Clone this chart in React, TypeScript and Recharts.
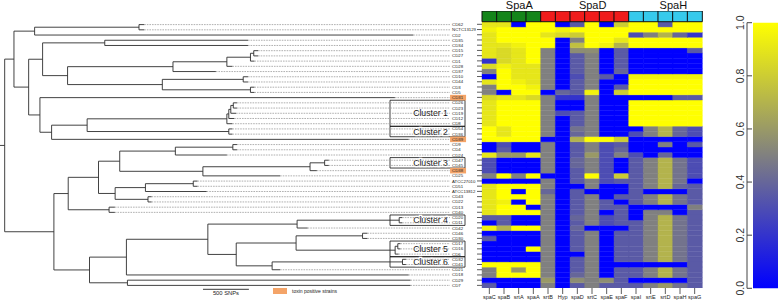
import React from "react";
import {
  ComposedChart,
  BarChart,
  Bar,
  Cell,
  Scatter,
  XAxis,
  YAxis,
  ReferenceLine,
  ReferenceArea,
  Label,
} from "recharts";

// strains, top to bottom, in tree order
const strains = [
  "CD62", "NCTC13129", "CD2", "CD35", "CD34", "CD15", "CD27", "CD1", "CD28", "CD37",
  "CD10", "CD44", "CD3", "CD5", "CD31", "CD26", "CD23", "CD19", "CD12", "CD8",
  "CD54", "CD36", "CD39", "CD9", "CD4", "CD24", "CD47", "CD45", "CD38", "CD25",
  "ATCC27010", "CD51", "ATCC13812", "CD43", "CD22", "CD13", "CD40", "CD20", "CD11", "CD42",
  "CD46", "CD30", "CD17", "CD16", "CD6", "CD32", "CD41", "CD21", "CD18", "CD29", "CD7",
];
const toxinPositive = ["CD31", "CD39", "CD38"];

const genes = ["spaC", "spaB", "srtA", "spaA", "srtB", "Hyp", "spaD", "srtC", "spaE", "spaF", "spaI", "srtE", "srtD", "spaH", "spaG"];
const geneGroup = ["SpaA", "SpaA", "SpaA", "SpaA", "SpaD", "SpaD", "SpaD", "SpaD", "SpaD", "SpaD", "SpaH", "SpaH", "SpaH", "SpaH", "SpaH"];
const groupNames = ["SpaA", "SpaD", "SpaH"];

// gene similarity per strain (rows follow strains, columns follow genes)
const presence = [
  [0.9, 0.9, 0, 1, 1, 0, 0.35, 1, 0, 0.8, 1, 1, 0.35, 1, 1],
  [0.95, 1, 1, 1, 1, 0.95, 1, 1, 1, 1, 1, 1, 1, 1, 1],
  [0.9, 1, 1, 1, 0.9, 0.85, 0.8, 1, 1, 1, 0.3, 0.5, 0.7, 0.4, 0.2],
  [0.9, 1, 1, 1, 1, 0, 0.5, 1, 1, 0.9, 1, 1, 1, 1, 1],
  [0.9, 0.9, 0.95, 1, 1, 0, 0.75, 1, 0.95, 0.7, 1, 1, 1, 1, 1],
  [0.9, 0.85, 0.9, 1, 0.5, 0, 0.55, 0.55, 0, 0.35, 0, 0, 0, 0, 0.35],
  [0.9, 0.85, 0.9, 1, 0.5, 0, 0.35, 0.5, 0, 0.35, 0, 0, 0, 0, 0],
  [0.2, 0.85, 0.9, 1, 0.5, 0, 0.35, 0.5, 0, 0.35, 0, 0, 0, 0, 0],
  [0.85, 0.95, 0.9, 0.9, 0.5, 0, 0.35, 0.5, 0, 0.35, 0, 0, 0, 0, 0],
  [0.5, 1, 0.9, 0.9, 0.5, 0, 0.35, 0.5, 0, 0.4, 0, 0, 0, 0, 0],
  [0, 1, 0.9, 0.9, 0.5, 0, 0.3, 0.5, 0.35, 0, 0.95, 0.95, 0.95, 0.95, 0.95],
  [0.9, 1, 0.95, 0.9, 0.5, 0, 0.35, 0.5, 0, 0, 1, 1, 1, 1, 1],
  [0.5, 1, 1, 0.95, 0.5, 0, 0.35, 0.5, 0, 0.35, 1, 1, 1, 1, 1],
  [0.5, 0, 1, 1, 0, 0.4, 0.35, 0.95, 0, 0.8, 1, 1, 1, 1, 1],
  [0.85, 0.9, 0.9, 0.85, 0.5, 0.2, 0.2, 0.5, 0, 0, 0, 0, 0, 0.35, 0.35],
  [0.9, 1, 1, 1, 0.5, 0, 0, 0.5, 0, 0, 1, 1, 1, 1, 1],
  [0.9, 1, 1, 1, 0.5, 0, 0, 0.5, 0, 0, 1, 1, 1, 1, 1],
  [0.9, 1, 1, 1, 0.5, 0.3, 0.35, 0.5, 0, 0, 1, 1, 1, 1, 1],
  [0.9, 1, 1, 1, 0.5, 0, 0.35, 0.5, 0, 0, 1, 1, 1, 1, 1],
  [0.9, 1, 1, 1, 0.5, 0, 0.35, 0.5, 0, 0, 1, 1, 1, 1, 1],
  [1, 0.9, 1, 1, 0.5, 0, 0.45, 0.5, 0, 0, 0, 0.5, 0.7, 0.4, 0.3],
  [1, 0.9, 1, 1, 0.5, 0, 0.4, 0.5, 0, 0, 0.3, 0.5, 0.7, 0.4, 0.3],
  [1, 1, 1, 1, 0, 0, 0.7, 1, 1, 0.8, 0, 0, 0, 0, 0],
  [0, 0.3, 0, 0, 0.5, 0, 0.35, 0.5, 0.3, 0.35, 0, 0, 0.5, 0, 0.35],
  [0, 0.35, 0, 0, 0.5, 0, 0.35, 0.5, 0.3, 0.4, 0, 0, 0, 0, 0],
  [0.9, 0.6, 0.6, 0.9, 0.5, 0, 0.35, 0.6, 0.3, 0.5, 0.3, 0, 0.4, 0, 0],
  [0.3, 0, 0, 0, 0.5, 0, 0.4, 0.5, 0.3, 0, 0.35, 0.5, 0.7, 0.45, 0.3],
  [0.3, 0, 0, 0, 0.5, 0, 0.4, 0.5, 0.3, 0, 0.35, 0.5, 0.7, 0.45, 0.3],
  [0.3, 0, 0, 0, 0.5, 0, 0.35, 0.5, 0.3, 0, 0.35, 0.5, 0.7, 0.45, 0.3],
  [0.5, 1, 0.5, 1, 0, 0, 0.35, 1, 0.3, 0.8, 0.35, 0.5, 0.7, 0.45, 0.3],
  [0, 0, 0, 0, 0.5, 0, 0.35, 0.5, 0.3, 0.35, 0.35, 0.5, 0.7, 0.45, 0],
  [0.9, 1, 1, 1, 0.5, 0, 0, 0.5, 0, 0, 0.35, 0.5, 0.7, 0.4, 0.35],
  [0.9, 1, 0, 1, 0.4, 0, 0.35, 0, 0, 0, 0.35, 0, 0, 0, 0.35],
  [0.9, 1, 1, 1, 0.5, 0, 0.35, 0.5, 0, 0.35, 0.35, 0.5, 0.7, 0.45, 0.35],
  [0.9, 0.95, 0, 1, 0.5, 0, 0.35, 0.5, 0.35, 0, 0.35, 0.5, 0.7, 0.45, 0.35],
  [0.9, 1, 1, 0, 0.5, 0, 0.35, 0.5, 0.35, 0.35, 0, 0, 0, 0, 0.5],
  [0.9, 1, 1, 1, 0.5, 0, 0.35, 0.5, 0, 0.35, 0, 0.5, 0.5, 0, 0.35],
  [0.35, 0.35, 0, 0, 0.5, 0, 0.4, 0.5, 0.3, 0.35, 0, 0.5, 0.7, 0.45, 0.35],
  [0, 0.35, 0, 0, 0.5, 0, 0.35, 0.5, 0.3, 0.35, 0.35, 0.5, 0.7, 0.45, 0.35],
  [0.95, 0.7, 1, 1, 0.5, 0, 0.4, 0, 0, 0, 0.35, 0.5, 0.7, 0.45, 0.35],
  [0, 0, 0, 0, 0.5, 0, 0.35, 0.5, 0, 0.35, 0.35, 0.5, 0.7, 0.45, 0.35],
  [0.35, 0, 0, 0, 0.5, 0, 0.35, 0.5, 0, 0.35, 0.35, 0.5, 0.7, 0.45, 0.35],
  [0, 0, 0, 0, 0.5, 0, 0.35, 0.5, 0, 0.35, 0.35, 0.5, 0.7, 0.45, 0.35],
  [0, 0, 0, 1, 0.5, 0, 0.35, 0.5, 0, 0.35, 0.35, 0.5, 0.7, 0.45, 0.35],
  [0, 0, 0, 0, 0.5, 0, 0, 0.5, 0, 0.35, 0.35, 0.5, 0.7, 0.45, 0.35],
  [0, 0, 0, 0, 0.5, 0, 0.35, 0.5, 0, 0.35, 0.35, 0.5, 0.7, 0.45, 0.35],
  [1, 1, 1, 1, 0.5, 0, 0.35, 0.5, 0, 0, 0, 0, 0, 0, 0.35],
  [0.5, 1, 0.6, 1, 0.5, 0, 0.35, 0.5, 0, 0.35, 0.35, 0.5, 0.7, 0.45, 0.35],
  [0.5, 1, 1, 1, 0.5, 0, 0.4, 0.5, 0, 0.35, 0.35, 0.5, 0.7, 0.45, 0.35],
  [0, 0, 0, 0, 0.6, 0, 0.55, 0.5, 0.55, 0.35, 0, 0, 0, 0, 0.35],
  [0.35, 0, 0, 0, 0.5, 0, 0.35, 0.5, 0.35, 0.35, 0.35, 0.5, 0.6, 0.45, 0.35],
];

// internal tree nodes: [id, depth in SNPs, child, child]; a number child is a strain row
const treeNodes: [string, number, string | number, string | number][] = [
  ["root", 0, "U", "L"],
  ["U", 101, "A", "n86"],
  ["A", 326, "n418", 2],
  ["n418", 1463, 0, 1],
  ["n86", 261, "n128", "n120"],
  ["n128", 413, "n315", "n203"],
  ["n315", 1090, 3, 4],
  ["n203", 685, "n520", "n488"],
  ["n520", 1833, "n682", 9],
  ["n682", 2420, "n753", 8],
  ["n753", 2677, "n763", 7],
  ["n763", 2713, 5, 6],
  ["n488", 1717, "n731", "n753b"],
  ["n731", 2598, 10, 11],
  ["n753b", 2677, 12, 13],
  ["n120", 384, 14, "n155"],
  ["n155", 511, "n262", 22],
  ["n262", 898, "c1", "c2"],
  ["c1", 2420, "c1b", 19],
  ["c1b", 2441, "c1c", 18],
  ["c1c", 2463, "c1d", 17],
  ["c1d", 2490, 15, 16],
  ["c2", 2441, 20, 21],
  ["L", 536, "n205", "n269"],
  ["n205", 692, "n296", "n328"],
  ["n296", 1022, "n360", "n346"],
  ["n360", 1253, "n527", "n610"],
  ["n527", 1859, "n700", 25],
  ["n700", 2485, 23, 24],
  ["n610", 2159, "n932", 29],
  ["n932", 3326, "c3", 28],
  ["c3", 3485, 26, 27],
  ["n346", 1203, "n437", "n445"],
  ["n437", 1533, "n581", 32],
  ["n581", 2054, 30, 31],
  ["n445", 1561, 33, 34],
  ["n328", 1137, 35, 36],
  ["n269", 924, "n380", "n383"],
  ["n380", 1326, "n625", 48],
  ["n383", 1337, 49, 50],
  ["n625", 2213, "n893", "n710"],
  ["n893", 3185, "c4", 39],
  ["c4", 4297, 37, 38],
  ["n710", 2522, "n890", "n818"],
  ["n890", 3174, "n1090", "c5"],
  ["n1090", 3898, 40, 41],
  ["c5", 4253, "c5a", 44],
  ["c5a", 4282, 42, 43],
  ["n818", 2913, "c6", 47],
  ["c6", 4333, 45, 46],
];

// branch tip depth (SNPs) of each strain
const tipDepth = [
  1520, 1520, 4450, 2650, 2650, 2760, 2760, 2720, 2480, 2300,
  2650, 2650, 2720, 2720, 4250, 2530, 2530, 2520, 2500, 2480,
  2480, 2480, 4400, 2530, 2530, 2420, 3530, 3530, 3400, 3000,
  2100, 2100, 2200, 1600, 1600, 1200, 1200, 4330, 4330, 3300,
  3950, 3950, 4310, 4310, 4290, 4370, 4370, 3000, 4400, 4420, 4420,
];

// clusters: [label, first row, last row]
const clusters: [string, number, number][] = [
  ["Cluster 1", 15, 19],
  ["Cluster 2", 20, 21],
  ["Cluster 3", 26, 27],
  ["Cluster 4", 37, 38],
  ["Cluster 5", 42, 44],
  ["Cluster 6", 45, 46],
];

const scaleBarSnps = 500;
const keyTicks = [0, 0.2, 0.4, 0.6, 0.8, 1];

const groupColor: Record<string, string> = { SpaA: "#14851a", SpaD: "#f01c1c", SpaH: "#36caec" };
const TREE_LINE = "#2e2e2e";
const ORANGE = "#f4a468";
const LABEL_DEPTH = 4873;
const DASH_END = 4850;
const BOX_LEFT = 4197;
const BOX_RIGHT = 5014;
const HEADER = 2.05;

function heatColor(v: number) {
  const lo = [0, 0, 255];
  const mid = [128, 128, 128];
  const hi = [255, 255, 0];
  const [a, b, t] = v < 0.5 ? [lo, mid, v / 0.5] : [mid, hi, (v - 0.5) / 0.5];
  const c = a.map((s, k) => Math.round(s + (b[k] - s) * t));
  return `rgb(${c.join(",")})`;
}

const nodeById = new Map(treeNodes.map((n) => [n[0], n]));
const childY = (c: string | number): number => {
  if (typeof c === "number") return c;
  const n = nodeById.get(c)!;
  return (childY(n[2]) + childY(n[3])) / 2;
};
const childX = (c: string | number): number =>
  typeof c === "number" ? tipDepth[c] : nodeById.get(c)![1];

type Seg = { x1: number; y1: number; x2: number; y2: number };
const branchSegs: Seg[] = [];
treeNodes.forEach(([, x, a, b]) => {
  branchSegs.push({ x1: x, y1: childY(a), x2: x, y2: childY(b) });
  [a, b].forEach((c) => branchSegs.push({ x1: x, y1: childY(c), x2: childX(c), y2: childY(c) }));
});
branchSegs.push({ x1: -51, y1: childY("root"), x2: 0, y2: childY("root") });

const leafData = strains.map((name, i) => ({ x: LABEL_DEPTH, y: i, name }));

const LeafLabel = (p: any) => {
  const { cx, cy, payload } = p;
  const hot = toxinPositive.includes(payload.name);
  return (
    <g>
      {hot && <rect x={cx - 2} y={cy - 2.8} width={16} height={5.6} fill={ORANGE} />}
      <text x={cx} y={cy} dy="0.35em" fontSize={4.3} fill="#222">
        {payload.name}
      </text>
    </g>
  );
};

const ClusterLabel = (p: any) => {
  const { viewBox, text } = p;
  return (
    <text
      x={viewBox.x + viewBox.width / 2 + 3}
      y={viewBox.y + viewBox.height / 2}
      dy="0.35em"
      textAnchor="middle"
      fontSize={8.7}
      fill="#111"
      stroke="#fff"
      strokeWidth={2.5}
      paintOrder="stroke"
    >
      {text}
    </text>
  );
};

const TreePanel = () => (
  <ComposedChart width={482} height={303} margin={{ top: 22, right: 0, bottom: 15, left: 0 }}>
    <XAxis type="number" dataKey="x" domain={[-51, 5199]} hide allowDataOverflow />
    <YAxis type="number" dataKey="y" domain={[-0.5, 50.5]} reversed hide allowDataOverflow />
    {strains.map((_, i) => (
      <ReferenceLine
        key={`d${i}`}
        segment={[{ x: tipDepth[i], y: i }, { x: DASH_END, y: i }]}
        stroke="#9c9c9c"
        strokeWidth={0.8}
        strokeDasharray="1.6 1"
      />
    ))}
    {branchSegs.map((s, k) => (
      <ReferenceLine
        key={`b${k}`}
        segment={[{ x: s.x1, y: s.y1 }, { x: s.x2, y: s.y2 }]}
        stroke={TREE_LINE}
        strokeWidth={0.9}
      />
    ))}
    {clusters.map(([name, from, to]) => (
      <ReferenceArea
        key={name}
        x1={BOX_LEFT}
        x2={BOX_RIGHT}
        y1={from - 0.5}
        y2={to + 0.5}
        fill="none"
        stroke="#111"
        strokeWidth={0.8}
        ifOverflow="visible"
        label={<ClusterLabel text={name} />}
      />
    ))}
    <ReferenceLine
      segment={[{ x: 2160, y: 50.75 }, { x: 2160 + scaleBarSnps, y: 50.75 }]}
      stroke="#222"
      strokeWidth={0.9}
      ifOverflow="visible"
    >
      <Label value={`${scaleBarSnps} SNPs`} position="bottom" offset={2} fontSize={5.8} fill="#222" />
    </ReferenceLine>
    <Scatter data={leafData} shape={LeafLabel} isAnimationActive={false} />
  </ComposedChart>
);

const rowTicks = strains.map((_, i) => strains.length - 0.5 - i);
const heatData = genes.map((gene) => {
  const d: Record<string, number | string> = { gene, hdr: HEADER };
  strains.forEach((_, i) => {
    d[`r${i}`] = 1;
  });
  return d;
});
const stackOrder = strains.map((_, i) => strains.length - 1 - i);

const GroupLabel = (p: any) => {
  const { viewBox, text } = p;
  return (
    <text x={viewBox.x + viewBox.width / 2 + 8} y={viewBox.y + viewBox.height - 2} textAnchor="middle" fontSize={11} fill="#111">
      {text}
    </text>
  );
};

const blankTick = () => <g />;

const HeatPanel = () => (
  <BarChart
    width={265}
    height={303}
    data={heatData}
    margin={{ top: 11, right: 3, bottom: 0, left: 0 }}
    barCategoryGap={0}
    barGap={0}
  >
    <XAxis
      dataKey="gene"
      type="category"
      interval={0}
      tickSize={6}
      tickMargin={1}
      axisLine={false}
      tickLine={{ stroke: "#333", strokeWidth: 0.8 }}
      tick={{ fontSize: 5.5, fill: "#222" }}
      height={15}
    />
    <YAxis
      type="number"
      domain={[0, strains.length + HEADER]}
      ticks={rowTicks}
      interval={0}
      tickSize={5}
      axisLine={false}
      tickLine={{ stroke: "#333", strokeWidth: 0.8 }}
      tick={blankTick}
      width={42}
      allowDataOverflow
    />
    {stackOrder.map((i) => (
      <Bar key={i} dataKey={`r${i}`} stackId="h" isAnimationActive={false}>
        {genes.map((g, j) => {
          const c = heatColor(presence[i][j]);
          return <Cell key={g} fill={c} stroke={c} strokeWidth={0.4} />;
        })}
      </Bar>
    ))}
    <Bar dataKey="hdr" stackId="h" isAnimationActive={false}>
      {genes.map((g, j) => (
        <Cell key={g} fill={groupColor[geneGroup[j]]} stroke="#111" strokeWidth={1} />
      ))}
    </Bar>
    {groupNames.map((gname) => {
      const members = genes.filter((_, j) => geneGroup[j] === gname);
      return (
        <ReferenceArea
          key={gname}
          x1={members[0]}
          x2={members[members.length - 1]}
          y1={strains.length + HEADER}
          y2={strains.length + HEADER + 1.75}
          fill="none"
          stroke="none"
          ifOverflow="visible"
          label={<GroupLabel text={gname} />}
        />
      );
    })}
  </BarChart>
);

const keyData = [{ k: "key", v: 1 }];
const keyStops = [0, 0.25, 0.5, 0.75, 1];

const KeyTick = (p: any) => {
  const { x, y, payload } = p;
  const tx = x - 10;
  return (
    <text transform={`rotate(-90 ${tx} ${y})`} x={tx} y={y} textAnchor="middle" fontSize={10.5} fill="#333">
      {Number(payload.value).toFixed(1)}
    </text>
  );
};

const ColorKey = () => (
  <BarChart width={70} height={303} data={keyData} margin={{ top: 22.7, right: 0, bottom: 14.7, left: 39 }} barCategoryGap={0}>
    <defs>
      <linearGradient id="keyGrad" x1="0" y1="1" x2="0" y2="0">
        {keyStops.map((s) => (
          <stop key={s} offset={`${s * 100}%`} stopColor={heatColor(s)} />
        ))}
      </linearGradient>
    </defs>
    <XAxis dataKey="k" type="category" hide padding={{ left: 6, right: 0 }} />
    <YAxis
      type="number"
      domain={[0, 1]}
      ticks={keyTicks}
      interval={0}
      mirror
      tickSize={5}
      tickMargin={2}
      axisLine={{ stroke: "#444" }}
      tickLine={{ stroke: "#444" }}
      tick={KeyTick}
    />
    <Bar dataKey="v" fill="url(#keyGrad)" isAnimationActive={false} />
  </BarChart>
);

export default function App() {
  return (
    <div
      style={{
        position: "absolute",
        left: 0,
        top: 0,
        width: 778,
        height: 303,
        background: "#fff",
        fontFamily: "'Liberation Sans', Arial, sans-serif",
      }}
    >
      <div style={{ position: "absolute", left: 0, top: 0 }}>
        <TreePanel />
      </div>
      <div style={{ position: "absolute", left: 440, top: 0 }}>
        <HeatPanel />
      </div>
      <div style={{ position: "absolute", left: 708, top: 0 }}>
        <ColorKey />
      </div>
      <svg width={80} height={10} style={{ position: "absolute", left: 270, top: 286 }}>
        <rect x={3} y={2} width={14} height={6} fill={ORANGE} />
        <text x={22} y={5} dy="0.35em" fontSize={5} fill="#222">
          toxin positive strains
        </text>
      </svg>
    </div>
  );
}
